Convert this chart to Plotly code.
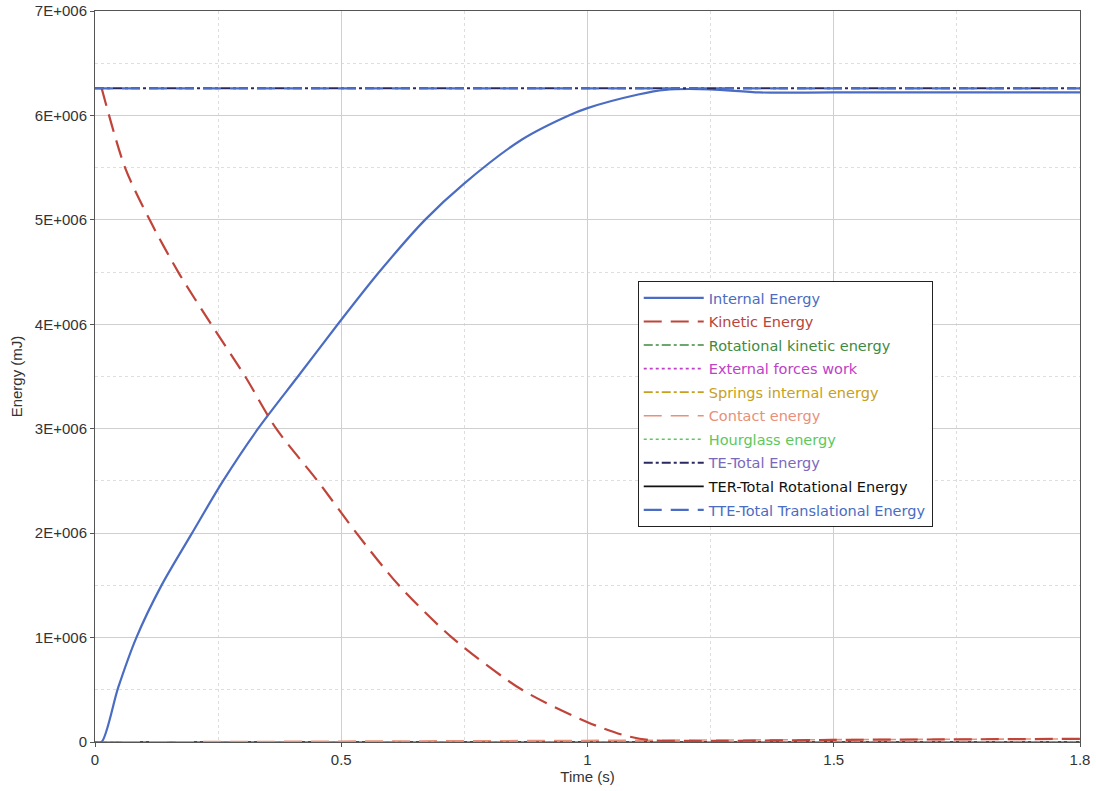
import plotly.graph_objects as go

# ---- data (energies in mJ) ----
t_internal = [0, 0.0135, 0.047, 0.084, 0.135, 0.197, 0.26, 0.331, 0.412, 0.493, 0.577, 0.67, 0.75, 0.867, 0.962, 1.0, 1.103, 1.157, 1.25, 1.35, 1.5, 2.0]
e_internal = [0, 0, 0.52e6, 1.0e6, 1.5e6, 2.0e6, 2.5e6, 3.0e6, 3.5e6, 4.0e6, 4.5e6, 5.0e6, 5.35e6, 5.77e6, 6.0e6, 6.07e6, 6.20e6, 6.245e6, 6.25e6, 6.22e6, 6.22e6, 6.22e6]

t_kinetic = [0.0135, 0.061, 0.111, 0.169, 0.236, 0.305, 0.368, 0.452, 0.531, 0.617, 0.725, 0.867, 1.0, 1.07, 1.123, 1.2, 1.5, 2.0]
e_kinetic = [6.26e6, 5.5e6, 5.0e6, 4.5e6, 4.0e6, 3.5e6, 3.0e6, 2.5e6, 2.0e6, 1.5e6, 1.0e6, 0.5e6, 0.19e6, 0.07e6, 0.02e6, 0.01e6, 0.02e6, 0.03e6]

t_flat = [0, 2.0]
e_zero = [0, 0]
e_total = [6.26e6, 6.26e6]
e_contact = [0, 0.03e6]

y_tickvals = [0, 1e6, 2e6, 3e6, 4e6, 5e6, 6e6, 7e6]
y_ticktext = ["0", "1E+006", "2E+006", "3E+006", "4E+006", "5E+006", "6E+006", "7E+006"]
x_tickvals = [0, 0.5, 1, 1.5, 2.0]
x_ticktext = ["0", "0.5", "1", "1.5", "1.8"]

series = [
    ("Internal Energy", t_internal, e_internal, "#4a6cc2", "solid", 2.2),
    ("Kinetic Energy", t_kinetic, e_kinetic, "#c0443a", "18px,9px", 2.2),
    ("Rotational kinetic energy", t_flat, e_zero, "#3f8a3f", "dashdot", 1.6),
    ("External forces work", t_flat, e_zero, "#c040c8", "dot", 1.6),
    ("Springs internal energy", t_flat, e_zero, "#c8a020", "dashdot", 1.6),
    ("Contact energy", t_flat, e_contact, "#e8907a", "18px,9px", 1.6),
    ("Hourglass energy", t_flat, e_zero, "#5cc85c", "dot", 1.6),
    ("TE-Total Energy", t_flat, e_total, "#2a2a60", "dashdot", 2.0),
    ("TER-Total Rotational Energy", t_flat, e_zero, "#111111", "solid", 1.6),
    ("TTE-Total Translational Energy", t_flat, e_total, "#4a6cc2", "18px,9px", 2.2),
]
legend_colors = {
    "Internal Energy": "#4a6cc2",
    "Kinetic Energy": "#b8443a",
    "Rotational kinetic energy": "#3f8a3f",
    "External forces work": "#c040c8",
    "Springs internal energy": "#c8a020",
    "Contact energy": "#e8907a",
    "Hourglass energy": "#5cc85c",
    "TE-Total Energy": "#7a68c0",
    "TER-Total Rotational Energy": "#111111",
    "TTE-Total Translational Energy": "#4a6cc2",
}

fig = go.Figure()
draw_order = [8, 2, 3, 4, 6, 5, 0, 1, 7, 9]
for i in draw_order:
    name, x, y, col, dash, w = series[i]
    fig.add_trace(go.Scatter(
        x=x, y=y, mode="lines",
        name=f"<span style='color:{legend_colors[name]}'>{name}</span>",
        line=dict(color=col, dash=dash, width=w, shape="spline", smoothing=0.8),
        legendrank=i + 1,
        legendgroup=f"g{i}",
    ))

axis_font = dict(family="Liberation Sans, Arial, sans-serif", size=15, color="#333333")
fig.update_layout(
    width=1096, height=791,
    margin=dict(l=95, r=16, t=11, b=49),
    paper_bgcolor="white", plot_bgcolor="white",
    font=axis_font,
    showlegend=True,
    legend=dict(
        x=0.551, y=0.6306, xanchor="left", yanchor="top",
        bgcolor="white", bordercolor="#222222", borderwidth=1,
        font=dict(family="DejaVu Sans, Verdana, sans-serif", size=14.5),
        tracegroupgap=1.7, itemwidth=60,
    ),
    xaxis=dict(
        range=[0, 2.0], tickvals=x_tickvals, ticktext=x_ticktext,
        automargin=False,
        showgrid=True, gridcolor="#cfcfcf", gridwidth=1,
        minor=dict(dtick=0.25, showgrid=True, gridcolor="#dedede", griddash="dot", ticks=""),
        showline=True, linecolor="#555555", mirror=True,
        ticks="outside", ticklen=4, tickcolor="#555555",
        zeroline=False,
        title=dict(text="Time (s)", font=axis_font, standoff=0),
    ),
    yaxis=dict(
        range=[0, 7e6], tickvals=y_tickvals, ticktext=y_ticktext,
        automargin=False,
        showgrid=True, gridcolor="#cfcfcf", gridwidth=1,
        minor=dict(dtick=0.5e6, showgrid=True, gridcolor="#dedede", griddash="dot", ticks=""),
        showline=True, linecolor="#555555", mirror=True,
        ticks="outside", ticklen=4, tickcolor="#555555",
        zeroline=False,
        title=dict(text="Energy (mJ)", font=axis_font, standoff=8),
    ),
)

fig.write_html("out.html")
